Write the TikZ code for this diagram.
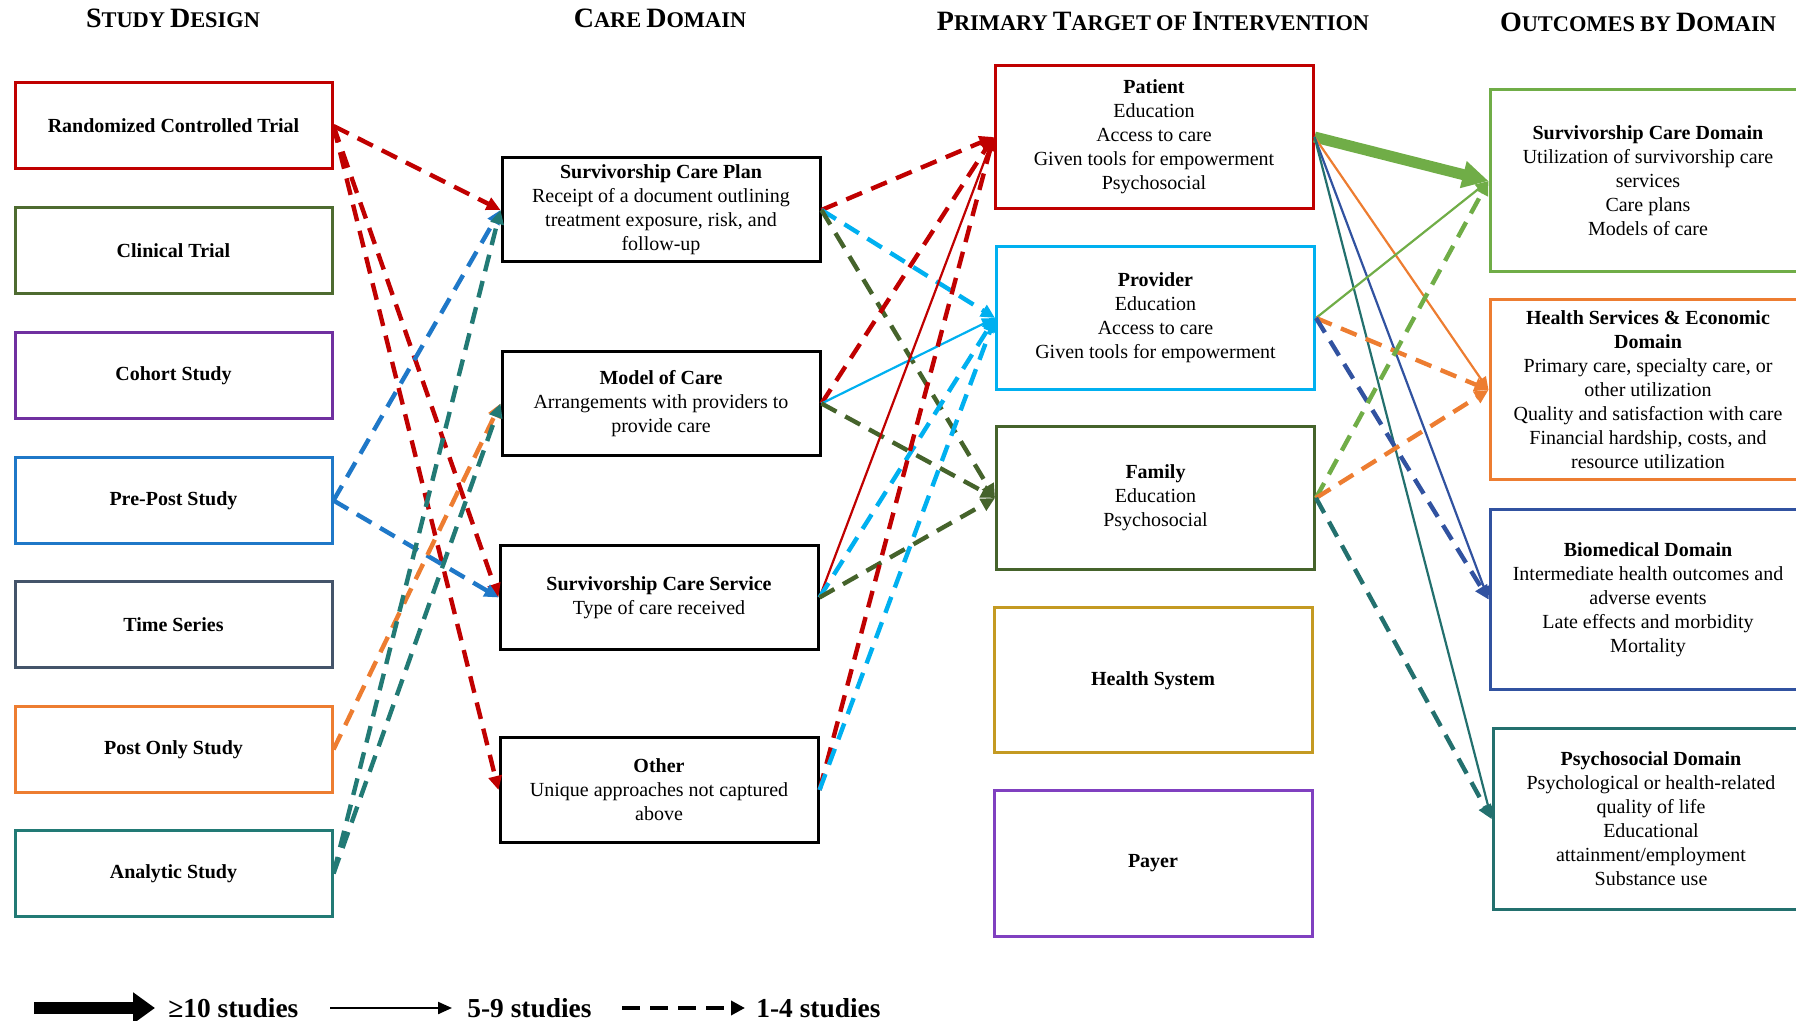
\documentclass[tikz,border=0pt]{standalone}
\usepackage{fontspec}
\setmainfont{Liberation Serif}
\usetikzlibrary{arrows.meta}
\definecolor{redA}{HTML}{C00000}
\definecolor{ctgreen}{HTML}{4E6B30}
\definecolor{cohpurple}{HTML}{7030A0}
\definecolor{ppblue}{HTML}{1F78C8}
\definecolor{tsgray}{HTML}{44546A}
\definecolor{poorange}{HTML}{ED7D31}
\definecolor{anteal}{HTML}{227A75}
\definecolor{provblue}{HTML}{00B0F0}
\definecolor{famgreen}{HTML}{45632B}
\definecolor{hsgold}{HTML}{C49A22}
\definecolor{paypurple}{HTML}{8040C0}
\definecolor{scdgreen}{HTML}{70AD47}
\definecolor{hseorange}{HTML}{ED7D31}
\definecolor{bioblue}{HTML}{3152A0}
\definecolor{psyteal}{HTML}{23706E}
\newcommand{\hsc}[2]{{\fontsize{14}{14}\selectfont #1}{\fontsize{11.2}{14}\selectfont #2}}
\begin{document}
\begin{tikzpicture}[x=0.5pt,y=-0.5pt,
  bx/.style={draw, line width=1.5pt, align=center, fill=white, font=\fontsize{10}{12}\selectfont, inner sep=2pt},
  cone/.style={bx, minimum width=158.5pt, minimum height=43pt, font=\fontsize{10}{12}\selectfont\bfseries},
  ctwo/.style={bx, draw=black, minimum width=159pt, minimum height=52pt},
  cthree/.style={bx, minimum width=159pt, minimum height=71.5pt},
  cfour/.style={bx, minimum width=158pt, minimum height=90pt},
  hd/.style={font=\bfseries, inner sep=0pt},
  dsh/.style={line width=2.2pt, dash pattern=on 8.5pt off 5pt, -{Triangle[length=7pt,width=6.5pt]}},
  thn/.style={line width=1.1pt, -{Triangle[length=6.5pt,width=5.5pt]}},
  thk/.style={line width=5.5pt, -{Triangle[length=13pt,width=13pt]}},
  lgd/.style={font=\fontsize{13.7}{15}\selectfont\bfseries, anchor=west, inner sep=0pt}
]
\useasboundingbox (0,0) rectangle (1796,1021);
\clip (0,0) rectangle (1796,1021);

% headings
\node[hd] (sd) at (173,18) {\hsc{S}{TUDY} \hsc{D}{ESIGN}};
\node[hd] (cd) at (660,18) {\hsc{C}{ARE} \hsc{D}{OMAIN}};
\node[hd] (pt) at (1153,22) {\hsc{P}{RIMARY} \hsc{T}{ARGET} \hsc{}{OF} \hsc{I}{NTERVENTION}};
\node[hd] (ob) at (1638,22) {\hsc{O}{UTCOMES} \hsc{}{BY} \hsc{D}{OMAIN}};

% column 1
\node[cone, draw=redA] (rct) at (173.5,126) {Randomized Controlled Trial};
\node[cone, draw=ctgreen] (ct) at (173.5,251) {Clinical Trial};
\node[cone, draw=cohpurple] (coh) at (173.5,376) {Cohort Study};
\node[cone, draw=ppblue] (pp) at (173.5,500.5) {Pre-Post Study};
\node[cone, draw=tsgray] (ts) at (173.5,624.5) {Time Series};
\node[cone, draw=poorange] (po) at (173.5,749.5) {Post Only Study};
\node[cone, draw=anteal] (an) at (173.5,873.5) {Analytic Study};

% column 2
\node[ctwo] (scp) at (661,210) {\textbf{Survivorship Care Plan}\\Receipt of a document outlining\\treatment exposure, risk, and\\follow-up};
\node[ctwo] (moc) at (661,403.5) {\textbf{Model of Care}\\Arrangements with providers to\\provide care};
\node[ctwo] (scs) at (659,597.5) {\textbf{Survivorship Care Service}\\Type of care received};
\node[ctwo] (oth) at (659,790) {\textbf{Other}\\Unique approaches not captured\\above};

% column 3
\node[cthree, draw=redA] (pat) at (1154,137) {\textbf{Patient}\\Education\\Access to care\\Given tools for empowerment\\Psychosocial};
\node[cthree, draw=provblue] (prov) at (1155.5,318) {\textbf{Provider}\\Education\\Access to care\\Given tools for empowerment};
\node[cthree, draw=famgreen] (fam) at (1155.5,498) {\textbf{Family}\\Education\\Psychosocial};
\node[cthree, draw=hsgold, minimum height=72.5pt] (hs) at (1153,680.5) {\textbf{Health System}};
\node[cthree, draw=paypurple, minimum height=72.5pt] (pay) at (1153,863.5) {\textbf{Payer}};

% column 4
\node[cfour, draw=scdgreen, minimum height=91pt] (scd) at (1648,181) {\textbf{Survivorship Care Domain}\\Utilization of survivorship care\\services\\Care plans\\Models of care};
\node[cfour, draw=hseorange] (hse) at (1648,390) {\textbf{Health Services \& Economic}\\\textbf{Domain}\\Primary care, specialty care, or\\other utilization\\Quality and satisfaction with care\\Financial hardship, costs, and\\resource utilization};
\node[cfour, draw=bioblue] (bio) at (1648,599.5) {\textbf{Biomedical Domain}\\Intermediate health outcomes and\\adverse events\\Late effects and morbidity\\Mortality};
\node[cfour, draw=psyteal] (psy) at (1651,819) {\textbf{Psychosocial Domain}\\Psychological or health-related\\quality of life\\Educational\\attainment/employment\\Substance use};

% study design -> care domain
\draw[dsh, redA] (rct.east) -- (scp.west);
\draw[dsh, redA] (rct.east) -- (scs.west);
\draw[dsh, redA] (rct.east) -- (oth.west);
\draw[dsh, ppblue] (pp.east) -- (scp.west);
\draw[dsh, ppblue] (pp.east) -- (scs.west);
\draw[dsh, poorange] (po.east) -- (moc.west);
\draw[dsh, anteal] (an.east) -- (scp.west);
\draw[dsh, anteal] (an.east) -- (moc.west);

% care domain -> target
\draw[dsh, redA] (scp.east) -- (pat.west);
\draw[dsh, provblue] (scp.east) -- (prov.west);
\draw[dsh, famgreen] (scp.east) -- (fam.west);
\draw[dsh, redA] (moc.east) -- (pat.west);
\draw[thn, provblue] (moc.east) -- (prov.west);
\draw[dsh, famgreen] (moc.east) -- (fam.west);
\draw[thn, redA] (scs.east) -- (pat.west);
\draw[dsh, provblue] (scs.east) -- (prov.west);
\draw[dsh, famgreen] (scs.east) -- (fam.west);
\draw[dsh, redA] (oth.east) -- (pat.west);
\draw[dsh, provblue] (oth.east) -- (prov.west);

% target -> outcomes
\draw[thk, scdgreen] (pat.east) -- (scd.west);
\draw[thn, hseorange] (pat.east) -- (hse.west);
\draw[thn, bioblue] (pat.east) -- (bio.west);
\draw[thn, psyteal] (pat.east) -- (psy.west);
\draw[thn, scdgreen] (prov.east) -- (scd.west);
\draw[dsh, hseorange] (prov.east) -- (hse.west);
\draw[dsh, bioblue] (prov.east) -- (bio.west);
\draw[dsh, scdgreen] (fam.east) -- (scd.west);
\draw[dsh, hseorange] (fam.east) -- (hse.west);
\draw[dsh, psyteal] (fam.east) -- (psy.west);

% legend
\coordinate (la) at (34,1008);
\coordinate (lb) at (155,1008);
\coordinate (lc) at (330,1008);
\coordinate (ld) at (452,1008);
\coordinate (le) at (622,1008);
\coordinate (lf) at (745,1008);
\draw[line width=6pt, -{Triangle[length=11pt,width=15pt]}] (la) -- (lb);
\draw[line width=1.1pt, -{Triangle[length=7pt,width=6pt]}] (lc) -- (ld);
\draw[line width=2.4pt, dash pattern=on 9pt off 5pt, -{Triangle[length=7pt,width=7pt]}] (le) -- (lf);
\node[lgd] (t1) at (168,1008) {≥10 studies};
\node[lgd] (t2) at (467,1008) {5-9 studies};
\node[lgd] (t3) at (756,1008) {1-4 studies};
\end{tikzpicture}
\end{document}
